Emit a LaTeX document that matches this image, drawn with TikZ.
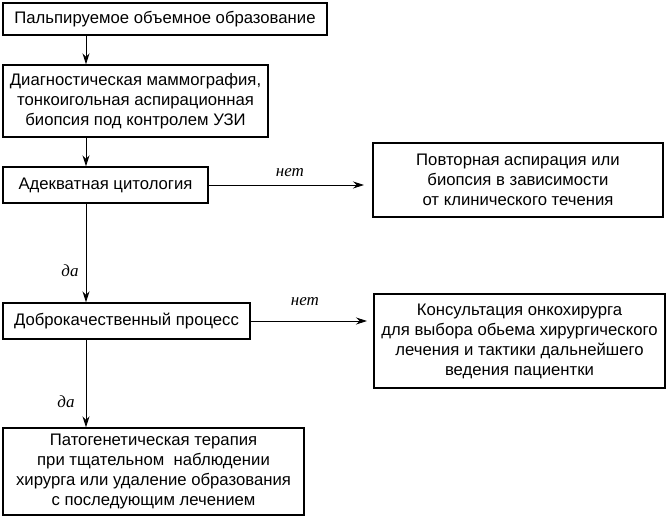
\documentclass[tikz,border=0pt]{standalone}
\usepackage{fontspec}
\setmainfont{Liberation Sans}
\newfontfamily\lblfont{Liberation Serif}
\usetikzlibrary{arrows.meta}
\begin{document}
\begin{tikzpicture}[x=1pt,y=1pt,
  box/.style={draw, line width=1.4pt, inner sep=0pt, align=center,
    font=\fontsize{16.7}{20}\selectfont},
  arr/.style={line width=0.9pt, -{Stealth[length=11pt,width=7pt]}},
  lbl/.style={font=\lblfont\itshape\fontsize{17}{18}\selectfont, inner sep=0pt}]
\useasboundingbox (0,0) rectangle (669,517);
\node[box, minimum width=324pt, minimum height=32pt] (b1) at (165,498) {Пальпируемое объемное образование};
\node[box, minimum width=265pt, minimum height=72pt] (b2) at (135.5,416) {Диагностическая маммография,\\тонкоигольная аспирационная\\биопсия под контролем УЗИ};
\node[box, minimum width=205pt, minimum height=36pt] (b3) at (105.5,332) {Адекватная цитология};
\node[box, minimum width=247pt, minimum height=36pt] (b4) at (126.5,196) {Доброкачественный процесс};
\node[box, minimum width=301pt, minimum height=87pt] (b5) at (153.5,45.5) {Патогенетическая терапия\\при тщательном\ \ наблюдении\\хирурга или удаление образования\\с последующим лечением};
\node[box, minimum width=290pt, minimum height=74pt] (ba) at (518,337) {Повторная аспирация или\\биопсия в зависимости\\от клинического течения};
\node[box, minimum width=291pt, minimum height=94pt] (bb) at (519.5,176) {Консультация онкохирурга\\для выбора обьема хирургического\\лечения и тактики дальнейшего\\ведения пациентки};
\coordinate (spine) at (86,0);
\coordinate (ea) at (364,0);
\coordinate (eb) at (367,0);
\draw[arr] (b1.south -| spine) -- (b2.north -| spine);
\draw[arr] (b2.south -| spine) -- (b3.north -| spine);
\draw[arr] (b3.south -| spine) -- (b4.north -| spine);
\draw[arr] (b4.south -| spine) -- (b5.north -| spine);
\draw[arr] (b3.east) -- (b3.east -| ea);
\draw[arr] (b4.east) -- (b4.east -| eb);
\node[lbl] (n1) at (290,344) {нет};
\node[lbl] (n2) at (305,215) {нет};
\node[lbl] (d1) at (70,246) {да};
\node[lbl] (d2) at (66,115) {да};
\end{tikzpicture}
\end{document}
